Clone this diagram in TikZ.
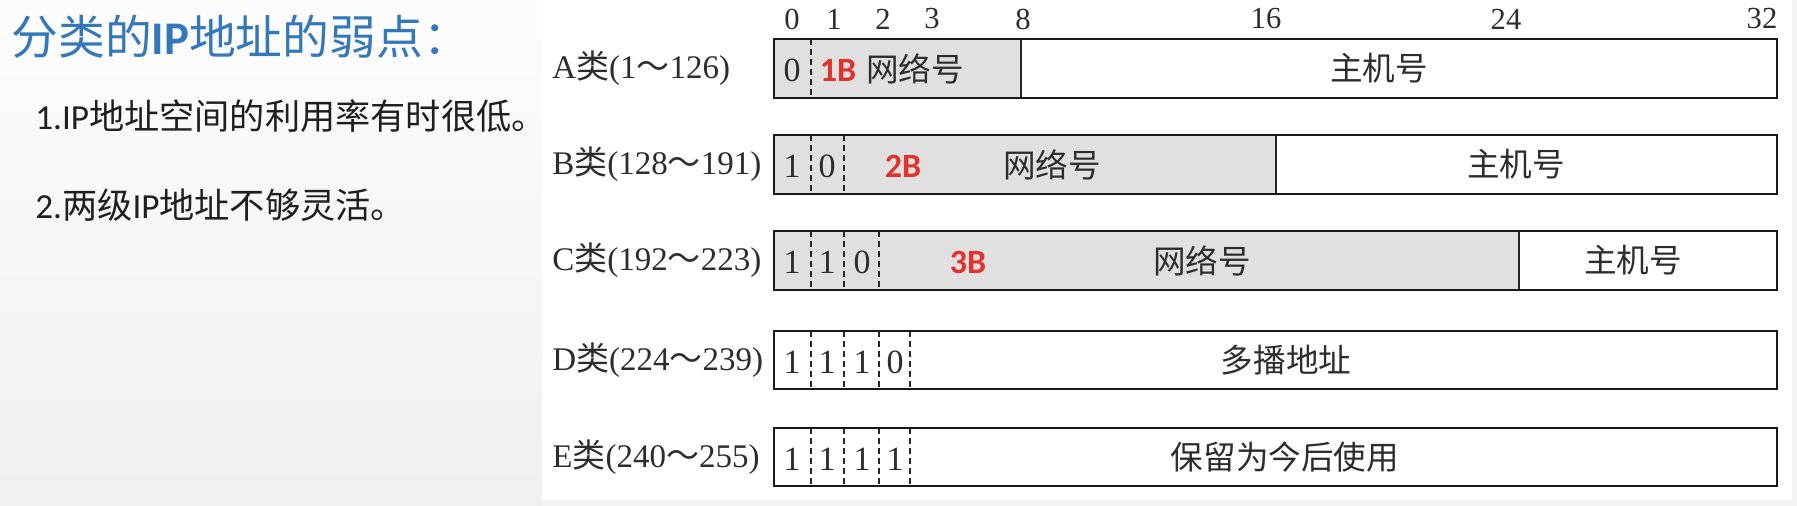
\documentclass[tikz,border=0pt]{standalone}
\usepackage{fontspec}
\setmainfont{Liberation Serif}
\newfontfamily\cjk{Noto Sans CJK SC}
\newfontfamily\carl{Carlito}
\definecolor{titleblue}{RGB}{52,120,186}
\definecolor{redtxt}{RGB}{226,50,46}
\definecolor{txtgray}{RGB}{45,45,45}
\definecolor{netfill}{RGB}{224,224,224}
\definecolor{bgout}{RGB}{243,243,243}
\tikzset{
  outerbox/.style={draw=black!90, line width=1.35pt},
  soliddiv/.style={draw=black!85, line width=0.9pt},
  dashdiv/.style={draw=black!85, line width=0.7pt, dash pattern=on 3pt off 2pt},
  rowlab/.style={anchor=west, inner sep=0pt, text=txtgray, font=\fontsize{16.5pt}{19pt}\selectfont},
  bitlab/.style={inner sep=0pt, text=txtgray, font=\fontsize{15.3pt}{18pt}\selectfont},
  bitin/.style={inner sep=0pt, text=txtgray, font=\fontsize{17pt}{20pt}\selectfont},
  fieldlab/.style={inner sep=0pt, text=txtgray, font=\cjk\fontsize{16.3pt}{19pt}\selectfont},
  bytelab/.style={inner sep=0pt, text=redtxt, font=\carl\bfseries\fontsize{17pt}{20pt}\selectfont},
  titlelab/.style={anchor=west, inner sep=0pt, text=titleblue, font=\fontsize{23.4pt}{28pt}\selectfont},
  itemlab/.style={anchor=west, inner sep=0pt, text=black!88, font=\fontsize{17.6pt}{21pt}\selectfont}
}
\begin{document}
\begin{tikzpicture}[x=0.5pt,y=-0.5pt]
\useasboundingbox (0,0) rectangle (1797,506);
\fill[bgout] (0,0) rectangle (1797,506);
\shade[top color=black!1, bottom color=black!6] (0,0) rectangle (542,506);
\fill[white] (542,0) rectangle (1792,500);

% left panel text
\node[titlelab] (title) at (11,37) {{\cjk 分类的}{\carl\bfseries IP}{\cjk 地址的弱点：}};
\node[itemlab] (item1) at (35,116) {{\carl 1.IP}{\cjk 地址空间的利用率有时很低。}};
\node[itemlab] (item2) at (35,205) {{\carl 2.}{\cjk 两级}{\carl IP}{\cjk 地址不够灵活。}};

% bit position labels
\node[bitlab] (b0) at (792,19) {0};
\node[bitlab] (b1) at (834,19) {1};
\node[bitlab] (b2) at (883,19) {2};
\node[bitlab] (b3) at (932,19) {3};
\node[bitlab] (b8) at (1023,19) {8};
\node[bitlab] (b16) at (1266,19) {16};
\node[bitlab] (b24) at (1506,19) {24};
\node[bitlab] (b32) at (1762,19) {32};

% ---- Row A
\fill[netfill] (774,39) rectangle (1021,98);
\draw[dashdiv] (811,39) -- (811,98);
\draw[soliddiv] (1021,39) -- (1021,98);
\draw[outerbox] (774,39) rectangle (1777,98);
\node[rowlab] (la) at (552,68.5) {A{\cjk 类}(1{\cjk ～}126)};
\node[bitin] (a0) at (792,70.5) {0};
\node[bytelab] (a1b) at (838,70) {1B};
\node[fieldlab] (anet) at (915,68.5) {网络号};
\node[fieldlab] (ahost) at (1379,68.5) {主机号};

% ---- Row B
\fill[netfill] (774,135) rectangle (1276,194);
\draw[dashdiv] (811,135) -- (811,194);
\draw[dashdiv] (844,135) -- (844,194);
\draw[soliddiv] (1276,135) -- (1276,194);
\draw[outerbox] (774,135) rectangle (1777,194);
\node[rowlab] (lb) at (552,164.5) {B{\cjk 类}(128{\cjk ～}191)};
\node[bitin] (b1a) at (792,166.5) {1};
\node[bitin] (b1b) at (827,166.5) {0};
\node[bytelab] (b2b) at (903,166) {2B};
\node[fieldlab] (bnet) at (1052,164.5) {网络号};
\node[fieldlab] (bhost) at (1516,164.5) {主机号};

% ---- Row C
\fill[netfill] (774,231) rectangle (1519,290);
\draw[dashdiv] (811,231) -- (811,290);
\draw[dashdiv] (844,231) -- (844,290);
\draw[dashdiv] (879,231) -- (879,290);
\draw[soliddiv] (1519,231) -- (1519,290);
\draw[outerbox] (774,231) rectangle (1777,290);
\node[rowlab] (lc) at (552,260.5) {C{\cjk 类}(192{\cjk ～}223)};
\node[bitin] (c1a) at (792,262.5) {1};
\node[bitin] (c1b) at (827,262.5) {1};
\node[bitin] (c1c) at (862,262.5) {0};
\node[bytelab] (c3b) at (968,262) {3B};
\node[fieldlab] (cnet) at (1202,260.5) {网络号};
\node[fieldlab] (chost) at (1633,260.5) {主机号};

% ---- Row D
\draw[dashdiv] (811,331) -- (811,389);
\draw[dashdiv] (844,331) -- (844,389);
\draw[dashdiv] (879,331) -- (879,389);
\draw[dashdiv] (910,331) -- (910,389);
\draw[outerbox] (774,331) rectangle (1777,389);
\node[rowlab] (ld) at (552,360) {D{\cjk 类}(224{\cjk ～}239)};
\node[bitin] (d1a) at (792,362) {1};
\node[bitin] (d1b) at (827,362) {1};
\node[bitin] (d1c) at (862,362) {1};
\node[bitin] (d1d) at (895,362) {0};
\node[fieldlab] (dmc) at (1286,360) {多播地址};

% ---- Row E
\draw[dashdiv] (811,428) -- (811,486);
\draw[dashdiv] (844,428) -- (844,486);
\draw[dashdiv] (879,428) -- (879,486);
\draw[dashdiv] (910,428) -- (910,486);
\draw[outerbox] (774,428) rectangle (1777,486);
\node[rowlab] (le) at (552,457) {E{\cjk 类}(240{\cjk ～}255)};
\node[bitin] (e1a) at (792,459) {1};
\node[bitin] (e1b) at (827,459) {1};
\node[bitin] (e1c) at (862,459) {1};
\node[bitin] (e1d) at (895,459) {1};
\node[fieldlab] (eres) at (1285,457) {保留为今后使用};
\end{tikzpicture}
\end{document}
